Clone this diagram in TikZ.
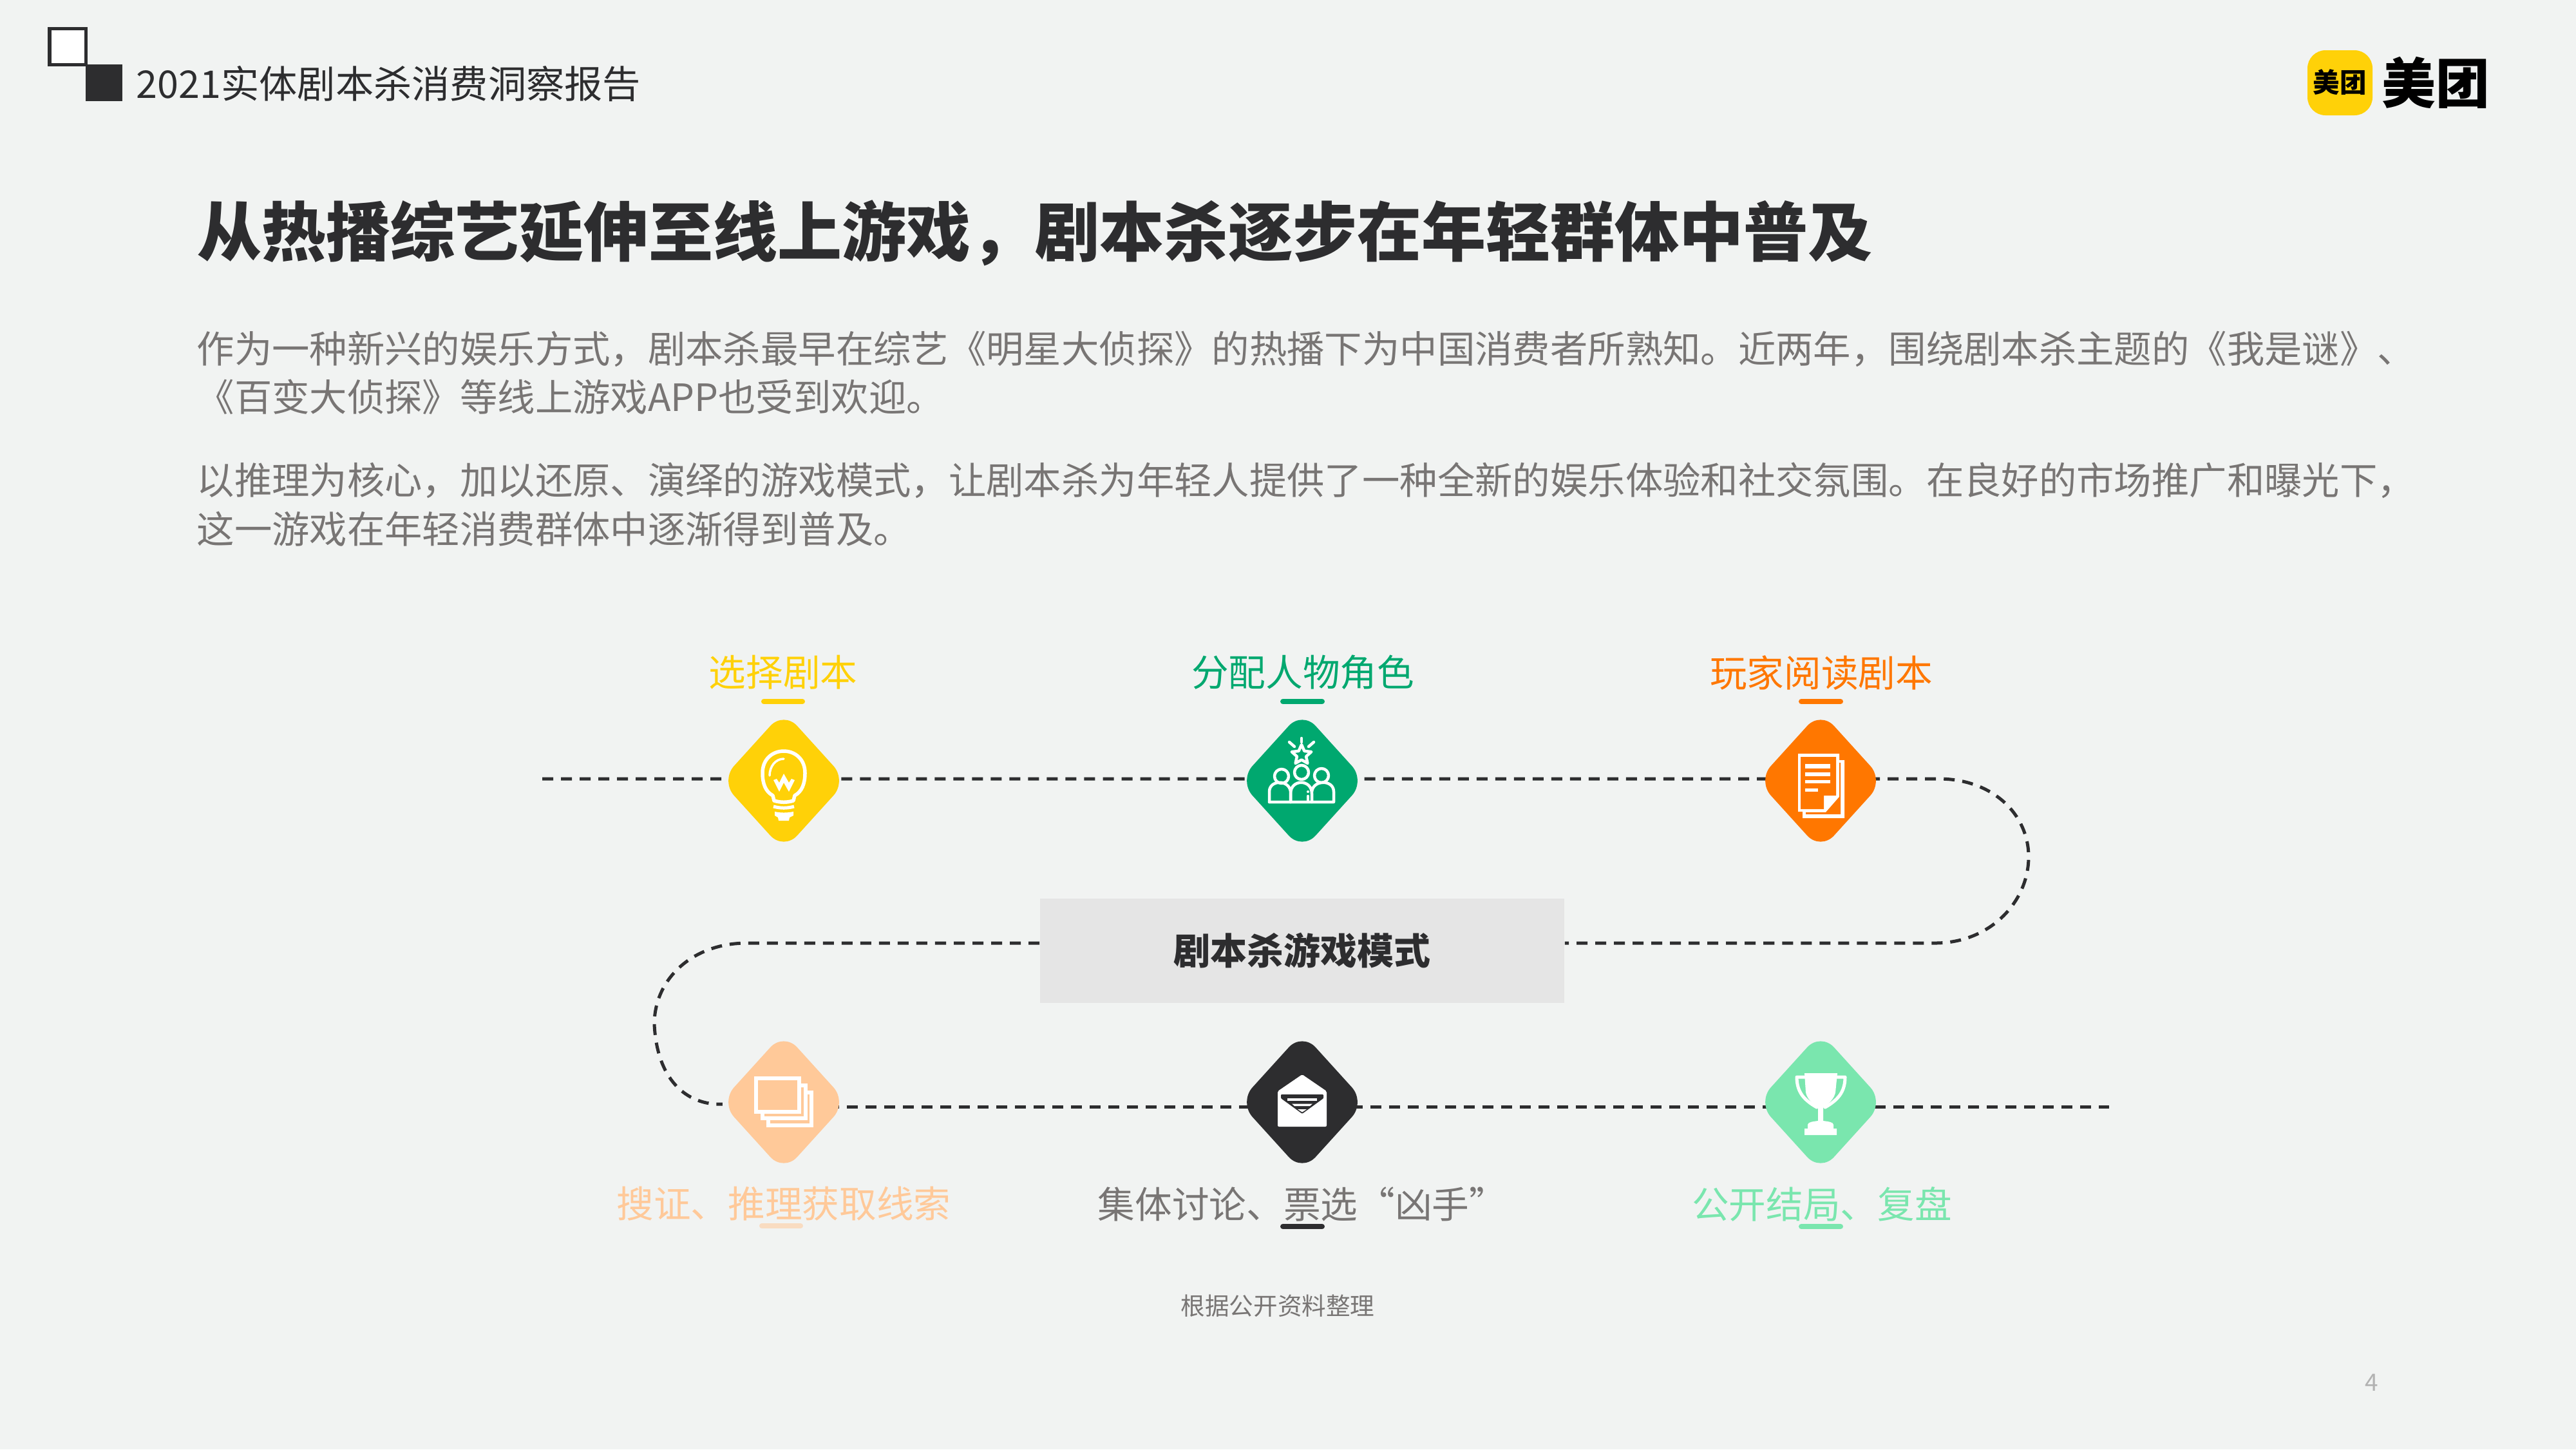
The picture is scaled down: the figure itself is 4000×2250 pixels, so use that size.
\documentclass[tikz,border=0pt]{standalone}
\usepackage{fontspec}
\setmainfont{Noto Sans CJK SC}
\usepackage{xcolor}
\usepackage{tikz}
\usetikzlibrary{shapes.geometric}
\definecolor{bgcol}{HTML}{F1F3F2}
\definecolor{inkcol}{HTML}{2D2D2F}
\definecolor{bodycol}{HTML}{787574}
\definecolor{yellowcol}{HTML}{FFD108}
\definecolor{greencol}{HTML}{00A86F}
\definecolor{orangecol}{HTML}{FF7700}
\definecolor{peachcol}{HTML}{FFC999}
\definecolor{mintcol}{HTML}{7AE6AE}
\pgfdeclarelayer{back}
\pgfsetlayers{back,main}
\tikzset{
    stepmark/.style={shape=diamond, fill=#1, minimum width=1.96cm, minimum height=2.16cm, inner sep=0pt, outer sep=0pt, rounded corners=0.31cm},
    steplabel/.style={text=#1, font=\fontsize{16.4}{20}\selectfont, inner sep=0pt},
    stepbar/.style={draw=#1, line width=0.08cm, line cap=round},
    dashline/.style={draw=inkcol, line width=0.05cm, dash pattern=on 0.17cm off 0.12cm},
    iconline/.style={draw=white, line width=0.045cm, line join=round, line cap=round},
    bodytext/.style={text=bodycol, anchor=north west, align=left, inner sep=0pt, font=\fontsize{16.6}{21.55}\selectfont},
}
\begin{document}
\begin{tikzpicture}[x=0.01cm, y=-0.01cm]
    \useasboundingbox (0,0) rectangle (4000,2250);
    \begin{pgfonlayer}{back}
    \fill[bgcol] (0,0) rectangle (4000,2250);
    \end{pgfonlayer}

    % header
    \draw[inkcol, fill=white, line width=0.05cm] (77,44) rectangle (133,100);
    \fill[inkcol] (133,100) rectangle (190,157);
    \node[anchor=west, inner sep=0pt, text=inkcol, font=\fontsize{16.85}{20}\selectfont] (Head) at (211,130) {2021实体剧本杀消费洞察报告};
    \fill[yellowcol, rounded corners=0.28cm] (3583,78) rectangle (3684,179);
    \node[inner sep=0pt, font=\fontsize{11.8}{14}\bfseries\selectfont] (Logo1) at (3633,128) {美团};
    \node[inner sep=0pt, font=\fontsize{23.8}{28}\bfseries\selectfont] (Logo2) at (3782,128) {美团};

    % title and paragraphs
    \node[anchor=west, inner sep=0pt, text=inkcol, font=\fontsize{28.45}{34}\bfseries\selectfont] (Title) at (306,362) {从热播综艺延伸至线上游戏，剧本杀逐步在年轻群体中普及};
    \node[bodytext] (Para1) at (305,513) {作为一种新兴的娱乐方式，剧本杀最早在综艺《明星大侦探》的热播下为中国消费者所熟知。近两年，围绕剧本杀主题的《我是谜》、\\《百变大侦探》等线上游戏APP也受到欢迎。};
    \node[bodytext] (Para2) at (305,717) {以推理为核心，加以还原、演绎的游戏模式，让剧本杀为年轻人提供了一种全新的娱乐体验和社交氛围。在良好的市场推广和曝光下，\\这一游戏在年轻消费群体中逐渐得到普及。};

    % diamonds and centre box
    \node[stepmark=yellowcol] (D1) at (1217,1212) {};
    \node[stepmark=greencol] (D2) at (2022,1212) {};
    \node[stepmark=orangecol] (D3) at (2827,1212) {};
    \node[stepmark=peachcol] (D4) at (1217,1711) {};
    \node[stepmark=inkcol] (D5) at (2022,1711) {};
    \node[stepmark=mintcol] (D6) at (2827,1711) {};
    \node[fill=black!10, minimum width=8.14cm, minimum height=1.61cm, inner sep=0pt, text=inkcol, font=\fontsize{16.2}{20}\bfseries\selectfont] (Box) at (2022,1476) {剧本杀游戏模式};

    % labels
    \node[steplabel=yellowcol] (L1) at (1216,1044) {选择剧本};
    \node[steplabel=greencol] (L2) at (2023,1044) {分配人物角色};
    \node[steplabel=orangecol] (L3) at (2828,1044) {玩家阅读剧本};
    \node[steplabel=peachcol] (L4) at (1217,1869) {搜证、推理获取线索};
    \node[steplabel=bodycol] (L5) at (2022,1869) {集体讨论、票选“凶手”};
    \node[steplabel=mintcol] (L6) at (2829,1869) {公开结局、复盘};
    \draw[stepbar=yellowcol] (1186,1089) -- (1246,1089);
    \draw[stepbar=greencol] (1992,1089) -- (2053,1089);
    \draw[stepbar=orangecol] (2797,1089) -- (2858,1089);
    \draw[stepbar=peachcol!55!bgcol] (1183,1903) -- (1243,1903);
    \draw[stepbar=inkcol] (1992,1904) -- (2053,1904);
    \draw[stepbar=mintcol] (2797,1904) -- (2858,1904);

    % dashed route
    \coordinate (A1) at (842,1209);
    \coordinate (A2) at (3010,1209);
    \coordinate (A3) at (3005,1464);
    \coordinate (B1) at (1160,1464);
    \coordinate (B2) at (1016,1590);
    \coordinate (C1) at (1228,1718);
    \coordinate (C2) at (3275,1718);
    \begin{pgfonlayer}{back}
    \draw[dashline] (A1) -- (A1 -| D1) -- (A1 -| D2) -- (A1 -| D3) -- (A2) .. controls (3095,1209) and (3150,1265) .. (3150,1330) .. controls (3150,1400) and (3090,1464) .. (A3) -- (Box.east |- A3);
    \draw[dashline] (Box.west |- B1) -- (B1) .. controls (1075,1464) and (1016,1520) .. (B2) .. controls (1020,1675) and (1065,1716) .. (D4);
    \draw[dashline] (C1) -- (C1 -| D5) -- (C1 -| D6) -- (C2);
    \end{pgfonlayer}

    % bulb
    \begin{scope}[shift={(D1)}]
    \draw[iconline, line width=0.055cm] (-15,31) -- (-17,23) .. controls (-28,17) and (-33,5) .. (-33,-12) .. controls (-33,-34) and (-17,-46) .. (0,-46) .. controls (17,-46) and (33,-34) .. (33,-12) .. controls (33,5) and (28,17) .. (17,23) -- (15,31) .. controls (5,34) and (-5,34) .. (-15,31);
    \draw[iconline, line width=0.035cm] (0,-34) .. controls (-13,-34) and (-22,-22) .. (-22,-8);
    \fill[white] (-16,-1) -- (-11,-3) -- (-7,3) -- (0,-11) -- (8,3) -- (12,-3) -- (17,-1) -- (8,17) -- (0,3) -- (-7,17) -- cycle;
    \draw[iconline, line width=0.05cm, line cap=butt] (-16,40) .. controls (-5,43) and (5,43) .. (16,40);
    \fill[white] (-14,48) .. controls (-5,50) and (5,50) .. (15,48) -- (15,54) -- (9,57) -- (8,62) -- (-8,62) -- (-9,57) -- (-14,54) -- cycle;
    \end{scope}

    % group with star
    \begin{scope}[shift={(D2)}]
    \draw[iconline] (-51,33) -- (-51,17) .. controls (-51,-2) and (-20,-2) .. (-18,17) -- (-18,33);
    \draw[iconline] (-18,33) -- (-18,20) .. controls (-18,-3) and (15,-3) .. (15,20) -- (15,33);
    \draw[iconline] (15,17) .. controls (17,-2) and (49,-2) .. (49,17) -- (49,33) -- (-51,33);
    \draw[iconline] (-32,-7) circle (11);
    \draw[iconline] (-1,-13) circle (11);
    \draw[iconline] (30,-8) circle (11);
    \fill[white] (9,17) circle (2);
    \draw[iconline] (9,24) -- (9,32);
    \draw[iconline] (-1,-66) -- (-1,-60);
    \draw[iconline] (-20,-60) -- (-12,-53);
    \draw[iconline] (18,-60) -- (10,-53);
    \draw[iconline, shift={(-1,-40)}] (0,-16) -- (4.4,-6.1) -- (15.2,-4.9) -- (7.1,2.3) -- (9.4,12.9) -- (0,7.5) -- (-9.4,12.9) -- (-7.1,2.3) -- (-15.2,-4.9) -- (-4.4,-6.1) -- cycle;
    \end{scope}

    % script pages
    \begin{scope}[shift={(D3)}]
    \fill[white] (-35,-42) -- (29,-42) -- (29,-32) -- (37,-32) -- (37,58) -- (-28,58) -- (-28,48) -- (-35,48) -- cycle;
    \fill[orangecol] (-31,-37) -- (24,-37) -- (24,23) -- (5,23) -- (5,44) -- (-31,44) -- cycle;
    \fill[orangecol] (29,-28) -- (31,-28) -- (31,52) -- (-23,52) -- (-23,49) -- (8,49) -- (29,25) -- cycle;
    \fill[white] (-24,-26) rectangle (15,-19);
    \fill[white] (-24,-13) rectangle (15,-7);
    \fill[white] (-24,-1) rectangle (15,4);
    \fill[white] (-24,12) rectangle (-4,17);
    \end{scope}

    % stacked cards
    \begin{scope}[shift={(D4)}]
    \draw[white, fill=peachcol, line width=0.06cm] (-24,-15) rectangle (43,36);
    \draw[white, fill=peachcol, line width=0.06cm] (-33,-26) rectangle (34,25);
    \draw[white, fill=peachcol, line width=0.06cm] (-43,-37) rectangle (24,15);
    \end{scope}

    % envelope
    \begin{scope}[shift={(D5)}]
    \fill[white, rounded corners=0.02cm] (-38,-17) -- (0,-43) -- (38,-17) -- (38,38) -- (-38,38) -- cycle;
    \fill[inkcol, rounded corners=0.01cm] (-33,-12) -- (33,-12) -- (33,-6) -- (0,18) -- (-33,-6) -- cycle;
    \fill[white] (-23,-6) rectangle (23,-2.5);
    \fill[white] (-16,2.5) -- (16,2.5) -- (12,6) -- (-12,6) -- cycle;
    \fill[white] (-7,11) -- (7,11) -- (0,15.5) -- cycle;
    \end{scope}

    % trophy
    \begin{scope}[shift={(D6)}]
    \draw[iconline, line width=0.05cm] (-24,-39) -- (-37,-39) .. controls (-37,-15) and (-25,-3) .. (-6,8);
    \draw[iconline, line width=0.05cm] (25,-39) -- (38,-39) .. controls (38,-15) and (26,-3) .. (7,8);
    \fill[white] (-25,-45) -- (26,-45) -- (23,-15) .. controls (21,-5) and (12,3) .. (4,9) -- (4,29) .. controls (12,30) and (20,31) .. (20,35) -- (20,41) -- (25,41) -- (25,51) -- (-25,51) -- (-25,41) -- (-20,41) -- (-20,35) .. controls (-20,31) and (-12,30) .. (-4,29) -- (-4,9) .. controls (-12,3) and (-21,-5) .. (-23,-15) -- cycle;
    \end{scope}

    % source and page number
    \node[inner sep=0pt, text=bodycol, font=\fontsize{10.7}{13}\selectfont] (Source) at (1984,2027) {根据公开资料整理};
    \node[inner sep=0pt, text=black!30, font=\fontsize{10.5}{13}\selectfont] (Page) at (3683,2146) {4};
\end{tikzpicture}
\end{document}
